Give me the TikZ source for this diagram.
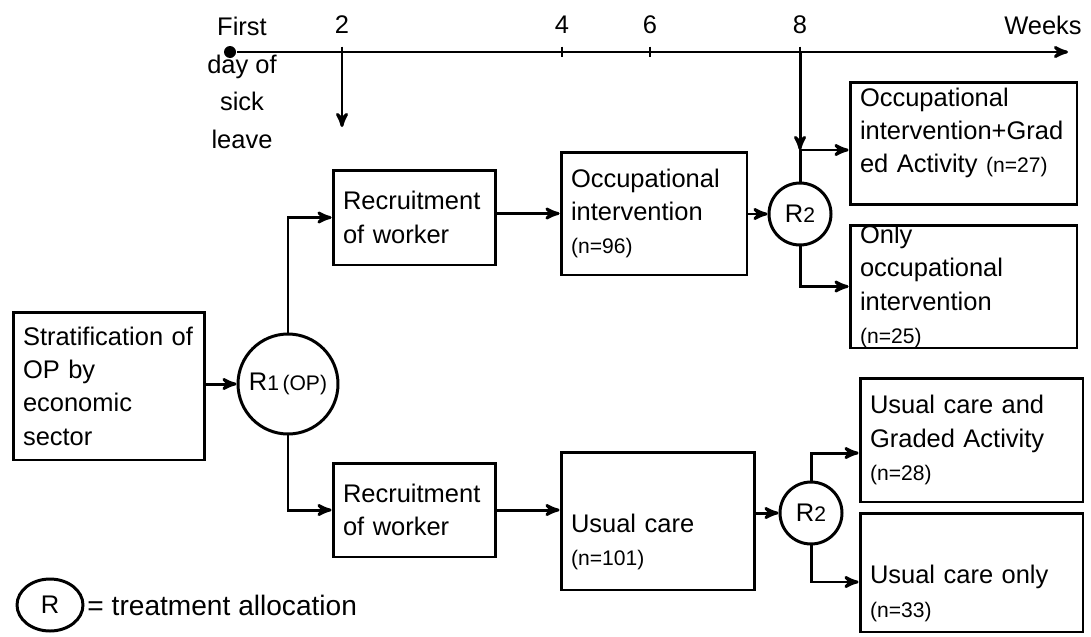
\documentclass[tikz,border=0pt]{standalone}
\usepackage{fontspec}
\setmainfont{Liberation Sans}
\usetikzlibrary{shapes, arrows}
\newcommand{\nsmall}{\fontsize{12}{15}\selectfont}

\begin{document}
\begin{tikzpicture}[x=0.02cm, y=-0.02cm, >=stealth', line width=1.7pt,
        font=\fontsize{14.5}{19}\selectfont,
        box/.style={rectangle, draw, align=left, inner xsep=0.2cm, inner ysep=0pt},
        rnd/.style={circle, draw, inner sep=0pt},
        arr/.style={->, line width=1.7pt}]
        \useasboundingbox (0,0) rectangle (1091,636);

        % time line
        \node at (230,52) [circle, fill, inner sep=0pt, minimum size=0.24cm] (t0) {};
        \coordinate (tend) at (1068,52);
        \draw[arr] (t0) -- (tend);
        \foreach \x/\w in {342/2, 562/4, 650/6, 800/8} {
            \coordinate (tick\w) at (\x,52);
            \draw[line width=1.2pt] ([yshift=3pt]tick\w) -- ([yshift=-3pt]tick\w);
            \node at (\x,25) (wk\w) {\w};
        }
        \node at (1043,25) (weeks) {Weeks};
        \node at (242,83) [align=center, font=\fontsize{14.5}{21.5}\selectfont] (sick) {First\\day of\\sick\\leave};
        \coordinate (start2) at (342,127);
        \draw[arr] (tick2) -- (start2);

        % boxes
        \node at (109,386) [box, text width=3.44cm, minimum height=2.96cm] (strat) {Stratification of\\OP by\\economic\\sector};
        \node at (414.5,217.5) [box, text width=2.86cm, minimum height=1.9cm] (rec1) {Recruitment\\of worker};
        \node at (414.5,510) [box, text width=2.86cm, minimum height=1.88cm] (rec2) {Recruitment\\of worker};
        \node at (654,213.5) [box, text width=3.32cm, minimum height=2.46cm] (occ) {Occupational\\intervention\\{\nsmall (n=96)}};
        \node at (658,521) [box, text width=3.48cm, minimum height=2.76cm] (uc) {};
        \node at ([yshift=-12pt]uc.center) [box, draw=none, text width=3.48cm] (uc_t) {Usual care\\{\nsmall (n=101)}};

        \node at (963.5,143.5) [box, text width=4.14cm, minimum height=2.46cm] (ocga) {};
        \node at ([yshift=6pt]ocga.center) [box, draw=none, text width=4.14cm] (ocga_t) {Occupational\\intervention+Grad\\ed Activity {\nsmall (n=27)}};
        \node at (963.5,286.5) [box, text width=4.14cm, minimum height=2.46cm] (oocc) {Only\\occupational\\intervention\\{\nsmall (n=25)}};
        \node at (971.5,440) [box, text width=4.06cm, minimum height=2.48cm] (ucga) {Usual care and\\Graded Activity\\{\nsmall (n=28)}};
        \node at (971.5,572.5) [box, text width=4.06cm, minimum height=2.38cm] (uco) {};
        \node at ([yshift=-12pt]uco.center) [box, draw=none, text width=4.06cm] (uco_t) {Usual care only\\{\nsmall (n=33)}};

        % randomisation
        \node at (288,384) [rnd, minimum size=2cm] (r1) {R{\nsmall 1\,(OP)}};
        \node at (800,214) [rnd, minimum size=1.24cm] (rtop) {R{\nsmall 2}};
        \node at (811,513) [rnd, minimum size=1.24cm] (rbot) {R{\nsmall 2}};

        \draw[arr] (strat.east |- r1) -- (r1.west);
        \draw[arr] (r1.north) |- (rec1.west);
        \draw[arr] (r1.south) |- (rec2.west);
        \draw[arr] (rec1.east |- occ) -- (occ.west);
        \draw[arr] (occ.east |- rtop) -- (rtop.west);
        \draw[arr] (rec2.east) -- (rec2.east -| uc.west);
        \draw[arr] (uc.east |- rbot) -- (rbot.west);

        \coordinate (split8) at (800,150);
        \draw[arr] (tick8) -- (split8);
        \draw[arr] (rtop.north) -- (split8) -- (split8 -| ocga.west);
        \draw[arr] (rtop.south) |- (oocc.west);
        \draw[arr] (rbot.north) |- ([yshift=-7.4pt]ucga.west);
        \draw[arr] (rbot.south) |- ([yshift=-5.4pt]uco.west);

        % legend
        \node at (50,605) [ellipse, draw, minimum width=1.32cm, minimum height=1.04cm, inner sep=0pt] (leg) {R};
        \node at (86,605) [anchor=west, inner sep=0pt, font=\fontsize{16}{19}\selectfont] (legtxt) {= treatment allocation};
\end{tikzpicture}
\end{document}
